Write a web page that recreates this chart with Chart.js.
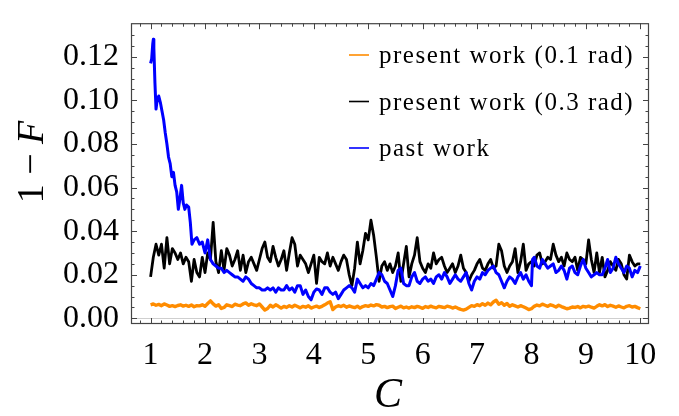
<!DOCTYPE html>
<html><head><meta charset="utf-8">
<script src="https://cdn.jsdelivr.net/npm/chart.js"></script>
<style>html,body{margin:0;padding:0;background:#fff}canvas{display:block}</style>
</head><body>
<canvas id="c" width="679" height="416"></canvas>
<script>
// ---------- DATA ----------
const gridC = [
1.00,1.05,1.10,1.15,1.20,1.25,1.30,1.35,1.40,1.45,1.50,1.55,1.60,1.65,1.70,1.75,1.80,1.85,1.90,1.95,
2.00,2.05,2.10,2.15,2.20,2.25,2.30,2.35,2.40,2.45,2.50,2.55,2.60,2.65,2.70,2.75,2.80,2.85,2.90,2.95,
3.00,3.05,3.10,3.15,3.20,3.25,3.30,3.35,3.40,3.45,3.50,3.55,3.60,3.65,3.70,3.75,3.80,3.85,3.90,3.95,
4.00,4.05,4.10,4.15,4.20,4.25,4.30,4.35,4.40,4.45,4.50,4.55,4.60,4.65,4.70,4.75,4.80,4.85,4.90,4.95,
5.00,5.05,5.10,5.15,5.20,5.25,5.30,5.35,5.40,5.45,5.50,5.55,5.60,5.65,5.70,5.75,5.80,5.85,5.90,5.95,
6.00,6.05,6.10,6.15,6.20,6.25,6.30,6.35,6.40,6.45,6.50,6.55,6.60,6.65,6.70,6.75,6.80,6.85,6.90,6.95,
7.00,7.05,7.10,7.15,7.20,7.25,7.30,7.35,7.40,7.45,7.50,7.55,7.60,7.65,7.70,7.75,7.80,7.85,7.90,7.95,
8.00,8.05,8.10,8.15,8.20,8.25,8.30,8.35,8.40,8.45,8.50,8.55,8.60,8.65,8.70,8.75,8.80,8.85,8.90,8.95,
9.00,9.05,9.10,9.15,9.20,9.25,9.30,9.35,9.40,9.45,9.50,9.55,9.60,9.65,9.70,9.75,9.80,9.85,9.90,9.95,
10.00];

const orange01 = [
.0062,.0066,.0060,.0064,.0058,.0066,.0061,.0055,.0058,.0054,.0059,.0062,.0056,.0060,.0055,.0061,.0053,.0058,.0057,.0062,
.0055,.0068,.0080,.0066,.0056,.0062,.0045,.0050,.0062,.0058,.0054,.0065,.0061,.0058,.0066,.0071,.0060,.0067,.0062,.0058,
.0066,.0052,.0038,.0045,.0060,.0052,.0062,.0055,.0047,.0055,.0050,.0058,.0052,.0060,.0054,.0048,.0055,.0051,.0058,.0047,
.0052,.0056,.0050,.0055,.0062,.0070,.0076,.0040,.0052,.0058,.0054,.0060,.0051,.0057,.0053,.0049,.0056,.0047,.0054,.0058,
.0055,.0061,.0057,.0063,.0060,.0052,.0055,.0049,.0054,.0056,.0045,.0051,.0056,.0048,.0052,.0047,.0053,.0049,.0055,.0051,
.0046,.0054,.0050,.0056,.0051,.0048,.0055,.0052,.0049,.0056,.0053,.0047,.0052,.0046,.0041,.0038,.0042,.0050,.0058,.0055,
.0063,.0058,.0067,.0060,.0070,.0062,.0075,.0083,.0065,.0072,.0060,.0068,.0055,.0062,.0057,.0052,.0058,.0053,.0047,.0040,
.0044,.0055,.0061,.0057,.0065,.0060,.0055,.0062,.0058,.0052,.0060,.0054,.0049,.0044,.0047,.0052,.0050,.0054,.0048,.0055,
.0052,.0056,.0051,.0047,.0055,.0062,.0057,.0063,.0054,.0060,.0056,.0051,.0057,.0052,.0048,.0055,.0058,.0052,.0055,.0049,
.0044];

const black03 = [
.019,.028,.034,.029,.034,.023,.037,.025,.032,.030,.027,.030,.025,.028,.026,.017,.027,.021,.019,.028,
.021,.030,.027,.044,.026,.021,.031,.022,.032,.029,.024,.027,.031,.022,.029,.021,.026,.028,.025,.022,
.027,.032,.035,.028,.026,.033,.028,.024,.027,.031,.022,.030,.037,.034,.024,.029,.027,.025,.021,.025,
.029,.016,.028,.026,.025,.030,.024,.028,.025,.022,.026,.029,.027,.020,.015,.023,.035,.025,.031,.039,
.036,.045,.038,.028,.017,.024,.026,.022,.025,.021,.024,.030,.017,.025,.033,.019,.025,.029,.037,.026,
.023,.021,.025,.023,.030,.025,.027,.028,.024,.021,.023,.025,.021,.024,.029,.023,.021,.017,.020,.022,
.025,.027,.023,.022,.025,.027,.023,.024,.034,.031,.024,.021,.024,.026,.032,.021,.026,.034,.022,.025,
.026,.024,.029,.030,.025,.026,.028,.027,.034,.029,.026,.028,.024,.030,.027,.026,.028,.022,.028,.027,
.025,.036,.027,.021,.030,.021,.028,.019,.022,.026,.024,.022,.027,.025,.020,.018,.029,.026,.024,.025,
.025];

const pastHeadC = [1.00,1.02,1.04,1.05,1.06,1.08,1.10,1.12,1.15,1.18,1.21,1.24,1.27,1.30,1.33,1.36,1.39,1.42,1.45,1.48,1.51,1.54,1.57,1.60,1.63,1.66,1.70,1.73,1.76,1.80,1.85,1.90,1.95];
const pastC = [...pastHeadC, ...gridC.slice(20,141), 8.02, ...gridC.slice(141)];
const pastF = [
.117,.119,.126,.128,.124,.108,.096,.100,.102,.099,.095,.091,.085,.080,.074,.071,.065,.067,.061,.058,.050,.055,.061,.053,.050,.052,.051,.044,.034,.036,.037,.034,.035,
.030,.036,.027,.025,.024,.023,.023,.021,.022,.021,.020,.019,.019,.018,.017,.019,.018,.016,.015,.014,
.014,.013,.013,.014,.013,.014,.012,.014,.013,.013,.015,.013,.014,.012,.015,.015,.011,.013,.010,.0085,
.012,.0135,.013,.011,.014,.014,.012,.011,.012,.009,.011,.013,.014,.015,.014,.012,.018,.016,.014,.015,
.014,.016,.015,.018,.021,.020,.017,.016,.013,.010,.015,.022,.023,.016,.015,.015,.019,.021,.017,.016,
.018,.019,.017,.018,.016,.019,.020,.018,.021,.019,.016,.018,.020,.018,.017,.019,.021,.016,.013,.017,
.019,.018,.021,.020,.022,.023,.024,.021,.020,.017,.014,.017,.019,.018,.016,.019,.021,.018,.020,.017,
.015,.027,
.028,.024,.023,.027,.025,.023,.024,.025,.021,.022,.024,.022,.018,.023,.024,.021,.020,.024,.027,
.023,.021,.019,.020,.021,.020,.020,.023,.027,.021,.023,.028,.025,.023,.021,.024,.023,.019,.022,.021,
.024];

const seriesLabels = ['present work (0.1 rad)', 'present work (0.3 rad)', 'past work'];
const seriesColors = ['#ff8c00', '#000000', '#0000ff'];
const xTicks = [1,2,3,4,5,6,7,8,9,10];
const yTicks = [0,0.02,0.04,0.06,0.08,0.10,0.12];
const xMinor = [0.8,1.2,1.4,1.6,1.8,2.2,2.4,2.6,2.8,3.2,3.4,3.6,3.8,4.2,4.4,4.6,4.8,5.2,5.4,5.6,5.8,6.2,6.4,6.6,6.8,7.2,7.4,7.6,7.8,8.2,8.4,8.6,8.8,9.2,9.4,9.6,9.8];
const yMinor = [0.005,0.01,0.015,0.025,0.03,0.035,0.045,0.05,0.055,0.065,0.07,0.075,0.085,0.09,0.095,0.105,0.11,0.115,0.125,0.13];
const xTitle = 'C';
const yTitleParts = ['1', ' \u2212 ', 'F'];

// ---------- BUILD ----------
const pts = (xs, ys) => xs.map((x, i) => ({x: x, y: ys[i]}));
const SERIF = '"Liberation Serif", "Times New Roman", serif';
const FRAME = '#444';

const overlay = {
  id: 'overlay',
  beforeDatasetsDraw(chart) {
    const {ctx, chartArea: a, scales: {y}} = chart;
    ctx.save();
    ctx.strokeStyle = '#cfcfcf';
    ctx.lineWidth = 1;
    const y0 = Math.round(y.getPixelForValue(0)) + 0.5;
    ctx.beginPath(); ctx.moveTo(a.left, y0); ctx.lineTo(a.right, y0); ctx.stroke();
    ctx.restore();
  },
  afterDraw(chart) {
    const {ctx, chartArea: a, scales: {x, y}} = chart;
    ctx.save();
    ctx.strokeStyle = FRAME; ctx.lineWidth = 1.2;
    ctx.strokeRect(a.left + 0.5, a.top + 0.5, a.right - a.left - 1, a.bottom - a.top - 1);
    ctx.lineWidth = 1;
    const tickX = (v, len) => {
      const px = Math.round(x.getPixelForValue(v)) + 0.5;
      ctx.beginPath();
      ctx.moveTo(px, a.bottom); ctx.lineTo(px, a.bottom - len);
      ctx.moveTo(px, a.top); ctx.lineTo(px, a.top + len);
      ctx.stroke();
    };
    const tickY = (v, len) => {
      const py = Math.round(y.getPixelForValue(v)) + 0.5;
      ctx.beginPath();
      ctx.moveTo(a.left, py); ctx.lineTo(a.left + len, py);
      ctx.moveTo(a.right, py); ctx.lineTo(a.right - len, py);
      ctx.stroke();
    };
    xTicks.forEach(v => tickX(v, 6));
    xMinor.forEach(v => tickX(v, 3.5));
    yTicks.forEach(v => tickY(v, 6));
    yMinor.forEach(v => tickY(v, 3.5));

    // legend
    const rowsY = [55, 101.5, 148];
    ctx.font = '25px ' + SERIF;
    if ('letterSpacing' in ctx) ctx.letterSpacing = '1.5px';
    ctx.textAlign = 'left'; ctx.textBaseline = 'alphabetic';
    seriesLabels.forEach((lab, i) => {
      ctx.strokeStyle = seriesColors[i]; ctx.lineWidth = 1.6;
      ctx.beginPath(); ctx.moveTo(349, rowsY[i]); ctx.lineTo(369, rowsY[i]); ctx.stroke();
      ctx.fillStyle = '#000';
      ctx.fillText(lab, 379, rowsY[i] + 8);
    });
    if ('letterSpacing' in ctx) ctx.letterSpacing = '0px';

    // x title
    ctx.fillStyle = '#000';
    ctx.font = 'italic 42px ' + SERIF;
    ctx.textAlign = 'center';
    ctx.fillText(xTitle, (a.left + a.right) / 2 - 2, 407);

    // y title (rotated)
    ctx.translate(43, 162);
    ctx.rotate(-Math.PI / 2);
    const fonts = ['38px ' + SERIF, '38px ' + SERIF, 'italic 38px ' + SERIF];
    let widths = yTitleParts.map((t, i) => { ctx.font = fonts[i]; return ctx.measureText(t).width; });
    let total = widths.reduce((s, w) => s + w, 0);
    let cx = -total / 2;
    ctx.textAlign = 'left';
    yTitleParts.forEach((t, i) => { ctx.font = fonts[i]; ctx.fillText(t, cx, 0); cx += widths[i]; });
    ctx.restore();
  }
};

new Chart(document.getElementById('c'), {
  type: 'scatter',
  data: {
    datasets: [
      {label: seriesLabels[0], data: pts(gridC, orange01), borderColor: seriesColors[0], borderWidth: 3.4, order: 3},
      {label: seriesLabels[1], data: pts(gridC, black03), borderColor: seriesColors[1], borderWidth: 2.8, order: 2},
      {label: seriesLabels[2], data: pts(pastC, pastF), borderColor: seriesColors[2], borderWidth: 3.0, order: 1}
    ].map(d => Object.assign(d, {showLine: true, pointRadius: 0, fill: false, tension: 0, borderJoinStyle: 'round'}))
  },
  options: {
    responsive: false, animation: false, devicePixelRatio: 1,
    layout: {padding: {top: 4, right: 30, left: 0, bottom: 0}},
    plugins: {legend: {display: false}, tooltip: {enabled: false}},
    scales: {
      x: {
        type: 'linear', min: 0.64, max: 10.16,
        afterBuildTicks(s) { s.ticks = xTicks.map(v => ({value: v})); },
        afterFit(s) { s.height = 92; },
        grid: {display: false}, border: {display: false},
        ticks: {font: {family: SERIF, size: 32}, color: '#000', padding: 4, maxRotation: 0, autoSkip: false,
                callback: v => String(v)}
      },
      y: {
        type: 'linear', min: -0.0026, max: 0.1354,
        afterBuildTicks(s) { s.ticks = yTicks.map(v => ({value: v})); },
        afterFit(s) { s.width = 131; },
        grid: {display: false}, border: {display: false},
        ticks: {font: {family: SERIF, size: 32}, color: '#000', padding: 4, autoSkip: false,
                callback: v => Number(v).toFixed(2)}
      }
    }
  },
  plugins: [overlay]
});
</script>
</body></html>
